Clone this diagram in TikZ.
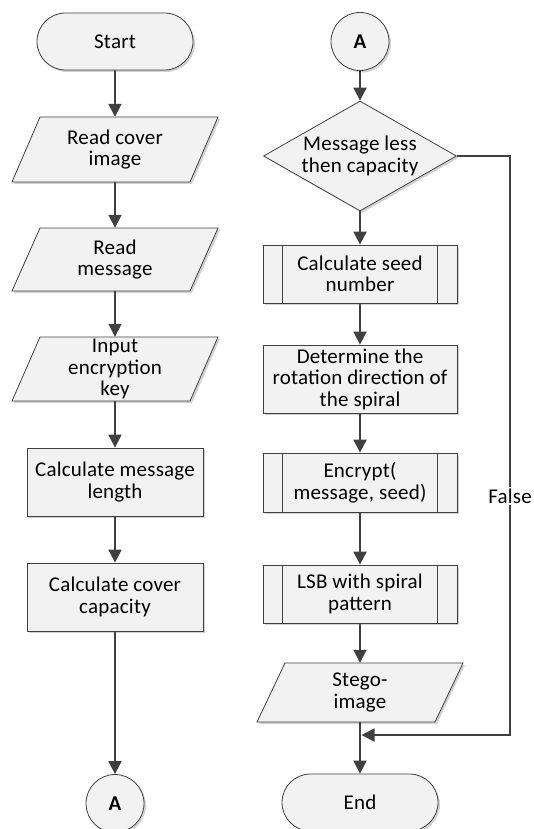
\documentclass[tikz,border=0pt]{standalone}
\usepackage{fontspec}
\setmainfont{Carlito}[LetterSpace=1]
\usetikzlibrary{arrows.meta,shapes.geometric,shapes.misc,shadows}
\definecolor{ln}{HTML}{404040}
\definecolor{bx}{HTML}{F2F2F2}
\tikzset{
  every node/.style={font=\fontsize{21}{21.5}\selectfont, align=center, text=black},
  shd/.style={drop shadow={shadow xshift=2pt, shadow yshift=-2pt, fill=black!35, opacity=0.5}},
  boxbase/.style={draw=ln, line width=0.8pt, fill=bx, shd},
  procbox/.style={boxbase, rectangle, minimum width=176pt, minimum height=68pt, inner sep=0pt},
  rbox/.style={boxbase, rectangle, minimum width=194pt, inner sep=0pt},
  subproc/.style={rbox, path picture={
      \draw[ln, line width=0.8pt] ([xshift=19.5pt]path picture bounding box.north west) -- ([xshift=19.5pt]path picture bounding box.south west);
      \draw[ln, line width=0.8pt] ([xshift=-19.5pt]path picture bounding box.north east) -- ([xshift=-19.5pt]path picture bounding box.south east);}},
  term/.style={boxbase, rounded rectangle, minimum width=156pt, minimum height=57pt, inner sep=0pt},
  conn/.style={boxbase, circle, minimum size=58pt, inner sep=0pt, font=\fontsize{21}{21.5}\selectfont\bfseries},
  decis/.style={boxbase, diamond, aspect=1.75, minimum width=193pt, minimum height=110pt, inner sep=0pt},
  arr/.style={draw=ln, line width=1.8pt, -{Triangle[length=13pt,width=13pt]}}
}
% name, cx, cy, half height, text
\newcommand\IOnode[5]{%
  \path[boxbase] ({#2-103},{#3+#4}) -- ({#2+75},{#3+#4}) -- ({#2+103},{#3-#4}) -- ({#2-75},{#3-#4}) -- cycle;
  \node[minimum width=150pt, minimum height={2*#4}, inner sep=0pt] (#1) at (#2,#3) {#5};
}
\begin{document}
\begin{tikzpicture}[x=1pt,y=-1pt]
\useasboundingbox (0,0) rectangle (534,829);
% left column
\node[term] (start) at (115,41.5) {Start};
\IOnode{read1}{115}{149.5}{32.5}{Read cover\\image}
\IOnode{read2}{115}{259.5}{31.5}{Read\\message}
\IOnode{inkey}{115}{369}{32}{Input\\encryption\\key}
\node[procbox] (calcmsg) at (115,482) {Calculate message\\length};
\node[procbox] (calccap) at (115,597) {Calculate cover\\capacity};
\node[conn] (a1) at (115,803.5) {A};
% right column
\node[conn] (a2) at (360,41.5) {A};
\node[decis] (dec) at (360,156) {Message less\\then capacity};
\node[subproc, minimum height=58pt] (seed) at (360,274) {Calculate seed\\number};
\node[rbox, minimum height=68pt] (det) at (360,379) {Determine the\\rotation direction of\\the spiral};
\node[subproc, minimum height=59pt] (enc) at (360,482.5) {Encrypt(\\message, seed)};
\node[subproc, minimum height=58pt] (lsb) at (360,594) {LSB with spiral\\pattern};
\IOnode{stego}{360}{692.5}{29.5}{Stego-\\image}
\node[term] (end) at (360,802.5) {End};
% connectors
\draw[arr] (start) -- (read1);
\draw[arr] (read1) -- (read2);
\draw[arr] (read2) -- (inkey);
\draw[arr] (inkey) -- (calcmsg);
\draw[arr] (calcmsg) -- (calccap);
\draw[arr] (calccap) -- (a1);
\draw[arr] (a2) -- (dec.north);
\draw[arr] (dec.south) -- (seed);
\draw[arr] (seed) -- (det);
\draw[arr] (det) -- (enc);
\draw[arr] (enc) -- (lsb);
\draw[arr] (lsb) -- (stego);
\draw[arr] (stego) -- (end);
\coordinate (f1) at (510,156);
\coordinate (f2) at (510,735);
\coordinate (fend) at (361.5,735);
\draw[arr] (dec.east) -- (f1) -- (f2) -- (fend);
\node[fill=white, inner sep=2pt] (false) at (510,496) {False};
\end{tikzpicture}
\end{document}
